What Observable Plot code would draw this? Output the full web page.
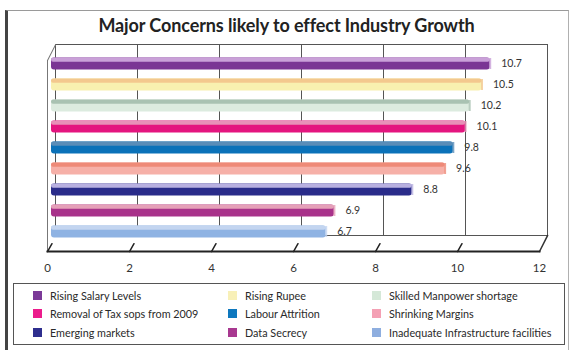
<!DOCTYPE html>
<html>
<head>
<meta charset="utf-8">
<script src="https://cdn.jsdelivr.net/npm/d3@7"></script>
<script src="https://cdn.jsdelivr.net/npm/@observablehq/plot@0.6"></script>
<style>
  html, body { margin: 0; padding: 0; background: #fff; }
  body { width: 572px; height: 350px; position: relative; overflow: hidden; font-family: Lato, "Open Sans", sans-serif; }
  #frame { position: absolute; left: 5px; top: 10px; width: 564px; height: 350px;
           border-top: 1px solid #9a9a9a; border-right: 1px solid #b0b0b0; border-left: 3px solid #444; box-sizing: border-box; }
  #title { position: absolute; left: 5px; width: 563px; top: 14px; text-align: center;
           font-size: 18px; font-weight: 700; color: #222; letter-spacing: -0.1px; }
  #chart { position: absolute; left: 0; top: 40px; }
  #legend { position: absolute; left: 13px; top: 283px; width: 552px; height: 62px; box-sizing: border-box;
            border: 1.5px solid #555; padding-top: 2px; display: grid;
            grid-template-columns: 195px 144px 1fr; grid-auto-rows: 18.5px; padding-left: 19px; }
  .item { display: flex; align-items: center; font-size: 10.8px; color: #2a2a2a; white-space: nowrap; }
  .sw { width: 9px; height: 9px; margin-right: 8px; flex: none; }
</style>
</head>
<body>
<div id="frame"></div>
<div id="title">Major Concerns likely to effect Industry Growth</div>
<div id="chart"></div>
<div id="legend"></div>
<script>
const categories = [
  "Rising Salary Levels",
  "Rising Rupee",
  "Skilled Manpower shortage",
  "Removal of Tax sops from 2009",
  "Labour Attrition",
  "Shrinking Margins",
  "Emerging markets",
  "Data Secrecy",
  "Inadequate Infrastructure facilities"
];
const values = [10.7, 10.5, 10.2, 10.1, 9.8, 9.6, 8.8, 6.9, 6.7];
const valueLabels = ["10.7", "10.5", "10.2", "10.1", "9.8", "9.6", "8.8", "6.9", "6.7"];
const barColors = ["#7a3594", "#f8f0b0", "#dcebdf", "#e4157f", "#0b72b9", "#f6b0a8", "#2a2c8a", "#a8328a", "#8fb3e3"];
const topColors = ["#c9a0d8", "#f3c88e", "#a9c2b2", "#e890b8", "#5a8db8", "#ee8a78", "#b8b0e0", "#e5a0b8", "#c3d5f0"];
const legendColors = ["#7b3a98", "#f8f0b8", "#d5e8d8", "#ec1c8c", "#0e78be", "#f4a0b4", "#2e2e8e", "#a83890", "#8eaedf"];
const xTicks = [0, 2, 4, 6, 8, 10, 12];

const data = categories.map((c, i) => ({cat: c, value: values[i], label: valueLabels[i], color: barColors[i], top: topColors[i]}));

const lineShape = {draw(context, l) { context.moveTo(0, 0); context.lineTo(0, -l); }};

const chart = Plot.plot({
  width: 572,
  height: 240,
  marginLeft: 47,
  marginRight: 33,
  marginTop: 20,
  marginBottom: 29,
  style: {fontFamily: "Lato, 'Open Sans', sans-serif", background: "transparent", overflow: "visible"},
  x: {domain: [0, 12]},
  y: {domain: categories, range: [11.8, 204.2], padding: 0, axis: null},
  marks: [
    // back wall
    Plot.frame({dx: 8, dy: -16, stroke: "#555", strokeWidth: 1}),
    Plot.ruleX(xTicks.filter(t => t < 12), {dx: 8, dy: -16, stroke: "#555", strokeWidth: 1}),
    // front-left edge
    Plot.ruleX([0], {stroke: "#777", strokeWidth: 1}),
    // depth edges
    Plot.vector([0], {x: d => d, frameAnchor: "top", length: 18, rotate: 27, anchor: "start", shape: lineShape, stroke: "#777", strokeWidth: 1}),
    Plot.vector([12], {x: d => d, frameAnchor: "bottom", length: 18, rotate: 27, anchor: "start", shape: lineShape, stroke: "#333", strokeWidth: 1.5}),
    // bars
    Plot.barX(data, {x: "value", y: "cat", fill: "color", dx: 4, insetTop: 4.5, insetBottom: 4.5, rx: 3}),
    Plot.barX(data, {x: "value", y: "cat", fill: "top", dx: 4, insetTop: 4.5, insetBottom: 12.2, rx: 2}),
    Plot.tickX(data, {x: "value", y: "cat", stroke: "top", dx: 4, strokeWidth: 2, insetTop: 5, insetBottom: 5, strokeOpacity: 0.8}),
    // value labels
    Plot.text(data, {x: "value", y: "cat", text: "label", dx: 15, textAnchor: "start", fontSize: 10.5, fill: "#333"}),
    // front axis
    Plot.frame({anchor: "bottom", stroke: "#222", strokeWidth: 2}),
    Plot.vector(xTicks.filter(t => t < 12), {x: d => d, frameAnchor: "bottom", length: 9, rotate: 30, anchor: "start", shape: lineShape, stroke: "#222", strokeWidth: 1.5}),
    Plot.axisX(xTicks, {tickSize: 0, tickPadding: 12, label: null, fontSize: 11.5, fill: "#333"})
  ]
});
document.getElementById("chart").append(chart);

const legend = document.getElementById("legend");
categories.forEach((c, i) => {
  const item = document.createElement("div");
  item.className = "item";
  const sw = document.createElement("span");
  sw.className = "sw";
  sw.style.background = legendColors[i];
  item.append(sw, document.createTextNode(c));
  legend.append(item);
});
</script>
</body>
</html>
